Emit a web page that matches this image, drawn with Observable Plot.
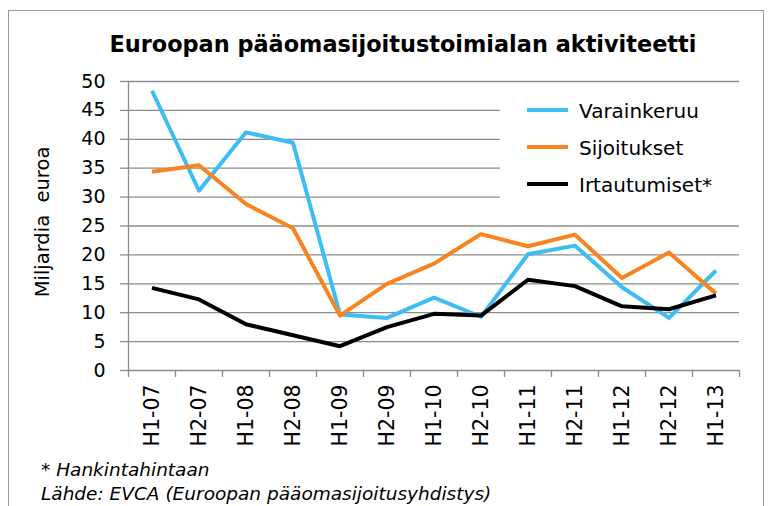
<!DOCTYPE html>
<html><head><meta charset="utf-8">
<script src="https://cdn.jsdelivr.net/npm/d3@7"></script>
<script src="https://cdn.jsdelivr.net/npm/@observablehq/plot@0.6"></script>
<style>
html,body{margin:0;padding:0;background:#fff;overflow:hidden;}
#wrap{position:relative;width:768px;height:506px;font-family:"DejaVu Sans",sans-serif;}
#chart{position:absolute;left:0;top:0;}
#overlay{position:absolute;left:0;top:0;}
</style>
</head><body>
<div id="wrap"><div id="chart"></div>
<svg id="overlay" width="768" height="506" xmlns="http://www.w3.org/2000/svg" font-family="DejaVu Sans, sans-serif"></svg>
</div>
<script>
const title = "Euroopan pääomasijoitustoimialan aktiviteetti";
const yLabel = "Miljardia  euroa";
const notes = ["* Hankintahintaan", "Lähde: EVCA (Euroopan pääomasijoitusyhdistys)"];
const categories = ["H1-07","H2-07","H1-08","H2-08","H1-09","H2-09","H1-10","H2-10","H1-11","H2-11","H1-12","H2-12","H1-13"];
const varainkeruu = [48.4,31.1,41.2,39.4,9.7,9.1,12.6,9.3,20.1,21.6,14.4,9.1,17.3];
const sijoitukset = [34.4,35.5,28.8,24.6,9.5,15.0,18.5,23.6,21.5,23.5,16.0,20.4,13.3];
const irtautumiset = [14.3,12.3,8.0,6.1,4.2,7.5,9.8,9.5,15.7,14.6,11.1,10.6,13.0];
const seriesNames = ["Varainkeruu","Sijoitukset","Irtautumiset*"];
const seriesColors = ["#3dbdf3","#f7841f","#000000"];
const yTicks = [0,5,10,15,20,25,30,35,40,45,50];

const seriesValues = [varainkeruu, sijoitukset, irtautumiset];
const rows = seriesNames.flatMap((s, k) => seriesValues[k].map((v, i) => ({i, period: categories[i], value: v, series: s})));
const idx = categories.map((c, i) => i);
const bounds = d3.range(categories.length + 1).map(i => i - 0.5);
const gray = "#8c8c8c";

const chart = Plot.plot({
  width: 768, height: 506,
  marginLeft: 128, marginRight: 29, marginTop: 81, marginBottom: 136,
  style: {fontFamily: "DejaVu Sans, sans-serif", fontSize: "19px", color: "#000", background: "transparent"},
  x: {type: "linear", domain: [-0.5, categories.length - 0.5]},
  y: {domain: [0, 50]},
  color: {domain: seriesNames, range: seriesColors},
  marks: [
    Plot.gridY(yTicks, {stroke: gray, strokeOpacity: 1, strokeWidth: 1.3}),
    Plot.ruleX([-0.5], {stroke: gray, strokeWidth: 1.3}),
    Plot.axisY(yTicks, {tickSize: 8, tickPadding: 15, stroke: gray, strokeWidth: 1.3, label: null, fontSize: 19}),
    Plot.axisX(bounds, {tickSize: 7, stroke: gray, strokeWidth: 1.3, tickFormat: () => "", label: null}),
    Plot.axisX(idx, {tickSize: 0, tickPadding: 14, tickRotate: -90, tickFormat: i => categories[i], label: null, fontSize: 20.5}),
    Plot.line(rows, {x: "i", y: "value", z: "series", stroke: "series", strokeWidth: 4, strokeLinecap: "butt", strokeLinejoin: "round"})
  ]
});
document.getElementById("chart").appendChild(chart);

const ov = d3.select("#overlay");
ov.append("rect").attr("x", 8.5).attr("y", 10.5).attr("width", 755).attr("height", 600)
  .attr("fill", "none").attr("stroke", "#9a9a9a").attr("stroke-width", 1);
ov.append("text").attr("x", 403).attr("y", 52).attr("text-anchor", "middle")
  .attr("font-size", 22.4).attr("font-weight", "bold").text(title);
ov.append("text").attr("transform", "translate(49,222) rotate(-90)").attr("text-anchor", "middle")
  .attr("font-size", 19.5).attr("xml:space", "preserve").style("white-space", "pre").text(yLabel);
const leg = ov.append("g");
leg.append("rect").attr("x", 500).attr("y", 88).attr("width", 245).attr("height", 127).attr("fill", "#fff");
seriesNames.forEach((s, k) => {
  const y = 110 + k * 37;
  leg.append("line").attr("x1", 527).attr("x2", 568).attr("y1", y).attr("y2", y)
    .attr("stroke", seriesColors[k]).attr("stroke-width", 4);
  leg.append("text").attr("x", 579).attr("y", y + 8).attr("font-size", 20).text(s);
});
notes.forEach((n, k) => {
  ov.append("text").attr("x", 41).attr("y", 476 + k * 24).attr("font-size", 18.5)
    .attr("font-style", "italic").text(n);
});
</script>
</body></html>
